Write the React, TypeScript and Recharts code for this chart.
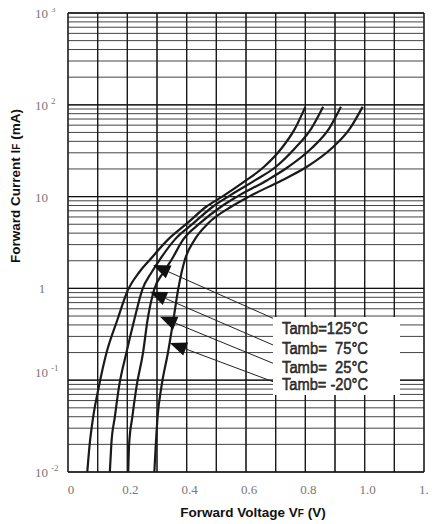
import React from "react";
import {
  LineChart, Line, XAxis, YAxis, CartesianGrid, ReferenceLine,
} from "recharts";

// forward current points (mA), shared by every curve
const currents = [0.01, 0.02, 0.04, 0.085, 0.2, 0.45, 0.96, 1.5, 2.05, 3.4, 5.1, 7.8, 10, 15, 21, 33.6, 55, 95];

// forward voltage (V) at those currents, per ambient temperature
const vf125 = [0.065, 0.073, 0.085, 0.104, 0.130, 0.166, 0.202, 0.240, 0.276, 0.337, 0.401, 0.467, 0.520, 0.600, 0.660, 0.720, 0.765, 0.800];
const vf75 = [0.141, 0.146, 0.158, 0.172, 0.197, 0.223, 0.250, 0.282, 0.309, 0.360, 0.422, 0.489, 0.540, 0.630, 0.700, 0.765, 0.820, 0.860];
const vf25 = [0.203, 0.206, 0.217, 0.231, 0.253, 0.268, 0.290, 0.322, 0.349, 0.388, 0.444, 0.517, 0.570, 0.670, 0.742, 0.821, 0.880, 0.920];
const vfM20 = [0.291, 0.296, 0.302, 0.315, 0.337, 0.355, 0.371, 0.383, 0.394, 0.427, 0.472, 0.551, 0.610, 0.720, 0.804, 0.889, 0.950, 0.993];

const xGrid = [0, 0.1, 0.2, 0.3, 0.4, 0.5, 0.6, 0.7, 0.8, 0.9, 1.0, 1.1, 1.2];
const xLabelVals = [0, 0.2, 0.4, 0.6, 0.8, 1.0, 1.2];
const xLabelText = ["0", "0.2", "0.4", "0.6", "0.8", "1.0", "1.2"];

const decades = [0.01, 0.1, 1, 10, 100];
const mantissas = [1, 2, 3, 4, 5, 6, 7, 8, 9];
const yGrid = [...decades.flatMap((d) => mantissas.map((m) => +(d * m).toPrecision(3))), 1000];
const yDecades = [0.01, 0.1, 1, 10, 100, 1000];
const yBase = ["10", "10", "1", "10", "10", "10"];
const yExp = ["-2", "-1", "", "", "2", "3"];

// legend rows and the arrow from each row to its curve: tip (V, mA) -> end (V, mA)
const tempLabels = ["Tamb=125°C", "Tamb=  75°C", "Tamb=  25°C", "Tamb= -20°C"];
const tipV = [0.287, 0.276, 0.31, 0.343];
const tipI = [1.8, 0.92, 0.49, 0.254];
const endV = [0.691, 0.691, 0.691, 0.691];
const endI = [0.472, 0.242, 0.153, 0.0964];

const toSeries = (vs: number[]) => vs.map((v, k) => ({ v, i: currents[k] }));
const series = [vf125, vf75, vf25, vfM20].map(toSeries);

const serif = "'Liberation Serif', 'Times New Roman', serif";
const sans = "'Liberation Sans', Arial, sans-serif";

function XTick(props: any) {
  const { x, payload } = props;
  const k = xLabelVals.indexOf(payload.value);
  if (k < 0) return <g />;
  return (
    <text x={x + 3} y={494} textAnchor="middle" fontFamily={serif} fontSize={13} fill="#777">
      {xLabelText[k]}
    </text>
  );
}

function YTick(props: any) {
  const { y, payload } = props;
  const k = yDecades.indexOf(payload.value);
  if (k < 0) return <g />;
  const shift = payload.value === 0.1 ? -8 : 0;
  if (yBase[k] === "1") {
    return (
      <text x={42} y={y + shift + 5} textAnchor="middle" fontFamily={serif} fontSize={13} fill="#777">1</text>
    );
  }
  return (
    <text x={35} y={y + shift + 5} fontFamily={serif} fontSize={13} fill="#777">
      10
      {yExp[k] && <tspan dx={3} dy={-6} fontSize={9}>{yExp[k]}</tspan>}
    </text>
  );
}

function arrowShape(p: any) {
  const { x1, y1, x2, y2 } = p;
  const dx = x2 - x1, dy = y2 - y1;
  const len = Math.hypot(dx, dy) || 1;
  const ux = dx / len, uy = dy / len;
  const L = 17, W = 7;
  const bx = x1 + ux * L, by = y1 + uy * L;
  const pts = `${x1},${y1} ${bx - uy * W},${by + ux * W} ${bx + uy * W},${by - ux * W}`;
  return (
    <g>
      <line x1={bx} y1={by} x2={x2} y2={y2} stroke="#222" strokeWidth={1} />
      <polygon points={pts} fill="#111" />
    </g>
  );
}

const rowBase = [334, 354, 373, 390];

export default function App() {
  return (
    <div style={{ position: "relative", left: -8, top: -8, width: 436, height: 524 }}>
      <LineChart
        width={436}
        height={524}
        margin={{ top: 13, right: 12, bottom: 0, left: 0 }}
      >
        <CartesianGrid stroke="#444" strokeWidth={1} />
        <XAxis
          type="number"
          dataKey="v"
          domain={[0, 1.2]}
          ticks={xGrid}
          interval={0}
          allowDataOverflow
          height={52}
          axisLine={false}
          tickLine={false}
          tick={<XTick />}
        />
        <YAxis
          type="number"
          dataKey="i"
          scale="log"
          domain={[0.01, 1000]}
          ticks={yGrid}
          interval={0}
          allowDataOverflow
          width={68}
          axisLine={false}
          tickLine={false}
          tick={<YTick />}
        />
        {xGrid.map((v) => (
          <ReferenceLine key={"vx" + v} x={v} stroke="#1a1a1a" strokeWidth={1.3} />
        ))}
        {yDecades.map((v) => (
          <ReferenceLine key={"dy" + v} y={v} stroke="#111" strokeWidth={1.3} />
        ))}
        {series.map((d, k) => (
          <Line
            key={k}
            data={d}
            dataKey="i"
            type="monotone"
            stroke="#1a1a1a"
            strokeWidth={2.2}
            dot={false}
            isAnimationActive={false}
          />
        ))}
        {tempLabels.map((t, k) => (
          <ReferenceLine
            key={"ar" + k}
            segment={[{ x: tipV[k], y: tipI[k] }, { x: endV[k], y: endI[k] }]}
            ifOverflow="visible"
            shape={arrowShape}
          />
        ))}
      </LineChart>
      <svg
        width={436}
        height={524}
        style={{ position: "absolute", left: 0, top: 0, pointerEvents: "none" }}
      >
        <rect x={273} y={317} width={127} height={78} fill="#fff" />
        {tempLabels.map((t, k) => (
          <text
            key={k}
            x={282}
            y={rowBase[k]}
            xmlSpace="preserve"
            textLength={86}
            lengthAdjust="spacingAndGlyphs"
            fontFamily={sans}
            fontSize={16}
            fill="#444"
            stroke="#000"
            strokeWidth={0.45}
          >
            {t}
          </text>
        ))}
        <text x={253} y={517} textAnchor="middle" fontFamily={sans} fontWeight="bold" fontSize={13.5} fill="#111">
          Forward Voltage V<tspan fontSize={10}>F</tspan> (V)
        </text>
        <text
          transform="translate(20,186) rotate(-90)"
          textAnchor="middle"
          fontFamily={sans}
          fontWeight="bold"
          fontSize={13.5}
          fill="#111"
        >
          Forward Current I<tspan fontSize={10}>F</tspan> (mA)
        </text>
      </svg>
    </div>
  );
}
